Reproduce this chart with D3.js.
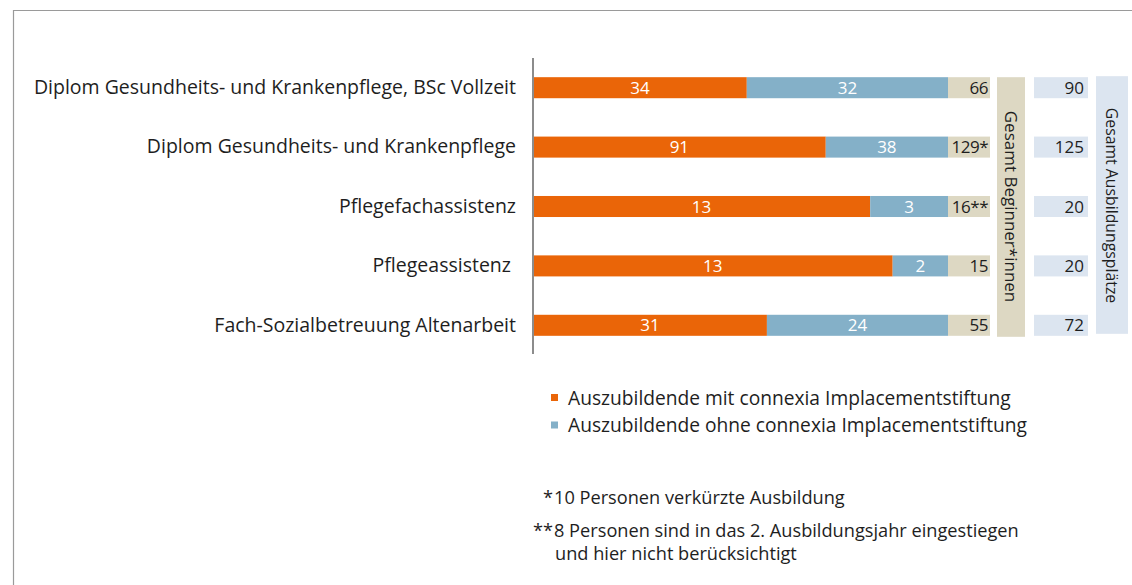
<!DOCTYPE html>
<html>
<head>
<meta charset="utf-8">
<script src="https://cdn.jsdelivr.net/npm/d3@7"></script>
<style>
  body { margin: 0; background: #fff; }
  svg { display: block; font-family: "Open Sans", sans-serif; }
</style>
</head>
<body>
<div id="chart"></div>
<script>
// Data
const categories = [
  "Diplom Gesundheits- und Krankenpflege, BSc Vollzeit",
  "Diplom Gesundheits- und Krankenpflege",
  "Pflegefachassistenz",
  "Pflegeassistenz ",
  "Fach-Sozialbetreuung Altenarbeit"
];
const mitStiftung = [34, 91, 13, 13, 31];
const ohneStiftung = [32, 38, 3, 2, 24];
const beginnerSuffix = ["", "*", "**", "", ""];
const ausbildungsplaetze = [90, 125, 20, 20, 72];
const seriesNames = [
  "Auszubildende mit connexia Implacementstiftung",
  "Auszubildende ohne connexia Implacementstiftung"
];
const footnotes = [
  { mark: "*", lines: ["10 Personen verkürzte Ausbildung"] },
  { mark: "**", lines: ["8 Personen sind in das 2. Ausbildungsjahr eingestiegen", "und hier nicht berücksichtigt"] }
];

const W = 1132, H = 585;
const FONT = "'Open Sans', sans-serif";
const COLORS = {
  mit: "#ea6508",
  ohne: "#84b0c8",
  beginner: "#ddd8c3",
  plaetze: "#dce5f0",
  text: "#1e1e1e",
  axis: "#8c8c8c"
};

const svg = d3.select("#chart").append("svg")
  .attr("width", W).attr("height", H);

// frame lines (top + left)
svg.append("path")
  .attr("d", `M13.5,${H}V10.5H${W}`)
  .attr("fill", "none")
  .attr("stroke", "#9a9a9a")
  .attr("stroke-width", 1.2);

const rows = categories.map((c, i) => ({
  cat: c,
  mit: mitStiftung[i],
  ohne: ohneStiftung[i],
  total: mitStiftung[i] + ohneStiftung[i],
  suffix: beginnerSuffix[i],
  plaetze: ausbildungsplaetze[i]
}));

const y = d3.scaleBand()
  .domain(categories)
  .range([58, 355])
  .paddingInner(0.646)
  .paddingOuter(0.323);

const x = d3.scaleLinear().domain([0, 1]).range([533, 948]);

// stacked 100% bars
const stack = d3.stack()
  .keys(["mit", "ohne"])
  .offset(d3.stackOffsetExpand);
const layers = stack(rows);

const layerG = svg.append("g").selectAll("g")
  .data(layers)
  .join("g")
  .attr("fill", d => COLORS[d.key]);

layerG.selectAll("rect")
  .data(d => d.map(v => ({ v, key: d.key })))
  .join("rect")
  .attr("x", d => x(d.v[0]))
  .attr("y", d => y(d.v.data.cat))
  .attr("width", d => x(d.v[1]) - x(d.v[0]))
  .attr("height", y.bandwidth());

layerG.selectAll("text")
  .data(d => d.map(v => ({ v, key: d.key })))
  .join("text")
  .attr("x", d => (x(d.v[0]) + x(d.v[1])) / 2)
  .attr("y", d => y(d.v.data.cat) + y.bandwidth() / 2)
  .attr("dy", "0.36em")
  .attr("text-anchor", "middle")
  .attr("fill", "#fff")
  .attr("font-size", 17)
  .text(d => d.v.data[d.key]);

// Gesamt Beginner*innen boxes
const bx0 = 948, bx1 = 990;
svg.append("g").selectAll("rect")
  .data(rows).join("rect")
  .attr("x", bx0).attr("y", d => y(d.cat))
  .attr("width", bx1 - bx0).attr("height", y.bandwidth())
  .attr("fill", COLORS.beginner);
svg.append("g").selectAll("text")
  .data(rows).join("text")
  .attr("x", bx1 - 2)
  .attr("y", d => y(d.cat) + y.bandwidth() / 2)
  .attr("dy", "0.36em")
  .attr("text-anchor", "end")
  .attr("fill", COLORS.text)
  .attr("font-size", 17)
  .attr("letter-spacing", -0.5)
  .text(d => d.total + d.suffix);

// vertical label Gesamt Beginner*innen
const yTop = y(categories[0]);
const yBottom = y(categories[categories.length - 1]) + y.bandwidth();
svg.append("rect")
  .attr("x", 997).attr("y", yTop)
  .attr("width", 28).attr("height", yBottom - yTop + 1)
  .attr("fill", COLORS.beginner);
svg.append("text")
  .attr("transform", `translate(${1011},${(yTop + yBottom) / 2}) rotate(90)`)
  .attr("text-anchor", "middle")
  .attr("dy", "0.36em")
  .attr("fill", COLORS.text)
  .attr("font-size", 17)
  .text("Gesamt Beginner*innen");

// Gesamt Ausbildungsplätze boxes
const px0 = 1034, px1 = 1088;
svg.append("g").selectAll("rect")
  .data(rows).join("rect")
  .attr("x", px0).attr("y", d => y(d.cat))
  .attr("width", px1 - px0).attr("height", y.bandwidth())
  .attr("fill", COLORS.plaetze);
svg.append("g").selectAll("text")
  .data(rows).join("text")
  .attr("x", px1 - 4)
  .attr("y", d => y(d.cat) + y.bandwidth() / 2)
  .attr("dy", "0.36em")
  .attr("text-anchor", "end")
  .attr("fill", COLORS.text)
  .attr("font-size", 17)
  .text(d => d.plaetze);

svg.append("rect")
  .attr("x", 1096).attr("y", yTop - 1)
  .attr("width", 32).attr("height", yBottom - yTop - 1)
  .attr("fill", COLORS.plaetze);
svg.append("text")
  .attr("transform", `translate(${1112},${(yTop + yBottom) / 2 - 1}) rotate(90)`)
  .attr("text-anchor", "middle")
  .attr("dy", "0.36em")
  .attr("fill", COLORS.text)
  .attr("font-size", 15.8)
  .text("Gesamt Ausbildungsplätze");

// category axis
const yAxis = svg.append("g")
  .attr("transform", "translate(533,0)")
  .call(d3.axisLeft(y).tickSize(0).tickPadding(17));
yAxis.select(".domain")
  .attr("d", "M0,58V354")
  .attr("stroke", COLORS.axis)
  .attr("stroke-width", 2);
yAxis.selectAll("text")
  .attr("font-size", 19.5)
  .attr("font-family", FONT)
  .attr("fill", COLORS.text)
  .style("white-space", "pre");

// legend
const legend = svg.append("g").attr("transform", "translate(551,398)");
const legendItem = legend.selectAll("g")
  .data(seriesNames).join("g")
  .attr("transform", (d, i) => `translate(0,${i * 27.5})`);
legendItem.append("rect")
  .attr("x", 0).attr("y", -4).attr("width", 7).attr("height", 7)
  .attr("fill", (d, i) => i === 0 ? COLORS.mit : COLORS.ohne);
legendItem.append("text")
  .attr("x", 17).attr("dy", "0.36em")
  .attr("font-size", 19.2)
  .attr("fill", COLORS.text)
  .text(d => d);

// footnotes
const fn = svg.append("g").attr("font-size", 18.2).attr("fill", COLORS.text);
let fy = 497;
footnotes.forEach(f => {
  fn.append("text")
    .attr("x", 553).attr("y", fy).attr("dy", "0.36em")
    .attr("text-anchor", "end")
    .text(f.mark);
  f.lines.forEach((line, j) => {
    fn.append("text")
      .attr("x", j === 0 ? 554 : 555).attr("y", fy).attr("dy", "0.36em")
      .text(line);
    fy += j === f.lines.length - 1 ? 33 : 23;
  });
});
</script>
</body>
</html>
